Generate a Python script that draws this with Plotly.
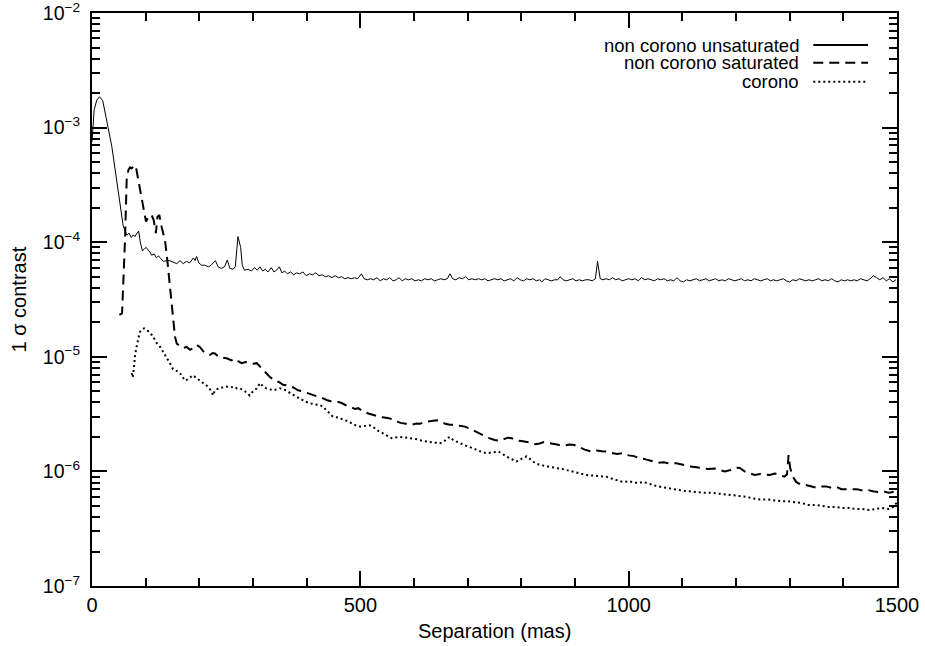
import plotly.graph_objects as go

# separation (mas) and 1-sigma contrast
sep_unsat = [0, 4, 9, 14, 20, 25, 30, 37, 43, 49, 52, 55, 58, 61, 65, 69, 73, 77, 80, 83,
             87, 90, 94, 98, 101, 105, 108, 111, 116, 120, 124, 127, 133, 139, 145, 151, 158, 164, 170, 176,
             182, 189, 192, 195, 199, 204, 210, 217, 222, 226, 230, 235, 241, 247, 252, 257, 263, 267, 272, 277,
             280, 284, 291, 297, 303, 308, 313, 318, 323, 328, 334, 339, 344, 349, 354, 359, 364, 370, 376, 381,
             387, 393, 399, 405, 411, 417, 423, 429, 435, 441, 447, 453, 459, 465, 471, 477, 483, 489, 495, 502,
             507, 513, 519, 525, 531, 537, 543, 549, 555, 561, 567, 572, 578, 584, 590, 596, 602, 608, 614, 620,
             626, 632, 638, 644, 650, 656, 662, 667, 672, 678, 684, 690, 696, 702, 708, 714, 720, 726, 732, 738,
             744, 750, 756, 762, 768, 774, 780, 786, 792, 798, 804, 810, 816, 822, 828, 834, 838, 844, 850, 856,
             862, 868, 872, 878, 884, 890, 896, 902, 908, 914, 920, 926, 932, 938, 942, 947, 952, 958, 964, 970,
             976, 982, 988, 994, 1000, 1006, 1012, 1018, 1024, 1030, 1036, 1042, 1048, 1054, 1060, 1066, 1072, 1078, 1084, 1090,
             1096, 1102, 1108, 1114, 1120, 1126, 1132, 1138, 1144, 1150, 1156, 1162, 1168, 1174, 1180, 1186, 1192, 1198, 1204, 1210,
             1216, 1222, 1228, 1234, 1240, 1246, 1252, 1258, 1264, 1270, 1276, 1282, 1288, 1294, 1300, 1306, 1312, 1318, 1324, 1330,
             1336, 1342, 1348, 1354, 1360, 1366, 1372, 1378, 1384, 1390, 1396, 1402, 1408, 1414, 1420, 1426, 1432, 1438, 1444, 1450,
             1456, 1462, 1468, 1474, 1480, 1486, 1492, 1498]
con_unsat = [7.5e-4, 1.43e-3, 1.74e-3, 1.86e-3, 1.72e-3, 1.35e-3, 1.0e-3, 6.8e-4, 4.3e-4, 2.7e-4,
             2.35e-4, 1.8e-4, 1.4e-4, 1.28e-4, 1.15e-4, 1.2e-4, 1.1e-4, 1.16e-4, 1.12e-4, 1.18e-4,
             1.25e-4, 1.0e-4, 8.4e-5, 8.8e-5, 9.0e-5, 8.5e-5, 8.2e-5, 7.7e-5, 7.9e-5, 7.3e-5,
             7.6e-5, 7.3e-5, 6.8e-5, 6.9e-5, 6.9e-5, 6.7e-5, 6.5e-5, 6.9e-5, 6.5e-5, 6.8e-5,
             6.6e-5, 7.3e-5, 6.9e-5, 7.5e-5, 6.6e-5, 6.3e-5, 6.3e-5, 6.1e-5, 6.3e-5, 6.6e-5,
             6.9e-5, 6.1e-5, 5.9e-5, 6.1e-5, 7.0e-5, 5.9e-5, 5.8e-5, 6.1e-5, 1.12e-4, 9.0e-5,
             6.3e-5, 5.7e-5, 5.8e-5, 5.6e-5, 6.0e-5, 5.7e-5, 6.1e-5, 5.6e-5, 5.8e-5, 5.5e-5,
             6.0e-5, 5.5e-5, 5.7e-5, 6.1e-5, 5.4e-5, 5.6e-5, 5.3e-5, 5.5e-5, 5.2e-5, 5.4e-5,
             5.3e-5, 5.5e-5, 5.1e-5, 5.3e-5, 5.2e-5, 5.4e-5, 5.1e-5, 5.2e-5, 5.0e-5, 5.1e-5,
             4.9e-5, 5.1e-5, 4.9e-5, 5.0e-5, 4.8e-5, 4.9e-5, 4.8e-5, 4.9e-5, 4.8e-5, 5.3e-5,
             4.8e-5, 4.7e-5, 4.8e-5, 4.7e-5, 4.9e-5, 4.6e-5, 4.8e-5, 4.7e-5, 4.9e-5, 4.6e-5,
             4.7e-5, 4.9e-5, 4.6e-5, 4.8e-5, 4.7e-5, 4.8e-5, 4.6e-5, 4.7e-5, 4.6e-5, 4.8e-5,
             4.7e-5, 4.8e-5, 4.6e-5, 4.7e-5, 4.8e-5, 4.7e-5, 4.8e-5, 5.3e-5, 4.8e-5, 4.7e-5,
             4.9e-5, 4.8e-5, 5.0e-5, 4.7e-5, 4.8e-5, 4.7e-5, 4.8e-5, 4.7e-5, 4.8e-5, 4.6e-5,
             4.7e-5, 4.8e-5, 4.7e-5, 4.8e-5, 4.6e-5, 4.7e-5, 4.8e-5, 4.6e-5, 4.9e-5, 4.7e-5,
             4.6e-5, 4.8e-5, 4.7e-5, 4.8e-5, 4.6e-5, 4.7e-5, 4.5e-5, 4.8e-5, 4.7e-5, 4.6e-5,
             4.7e-5, 4.7e-5, 5.0e-5, 4.7e-5, 4.6e-5, 4.7e-5, 4.8e-5, 4.6e-5, 4.7e-5, 4.6e-5,
             4.7e-5, 4.7e-5, 4.6e-5, 4.8e-5, 6.8e-5, 4.8e-5, 4.7e-5, 4.8e-5, 4.7e-5, 4.9e-5,
             4.7e-5, 4.8e-5, 4.6e-5, 4.7e-5, 4.8e-5, 4.7e-5, 4.8e-5, 4.6e-5, 4.9e-5, 4.7e-5,
             4.8e-5, 4.7e-5, 4.6e-5, 4.8e-5, 4.7e-5, 4.8e-5, 4.6e-5, 4.7e-5, 4.6e-5, 4.9e-5,
             4.6e-5, 4.5e-5, 4.7e-5, 4.6e-5, 4.7e-5, 4.8e-5, 4.6e-5, 4.7e-5, 4.8e-5, 4.6e-5,
             4.7e-5, 4.8e-5, 4.6e-5, 4.7e-5, 4.6e-5, 4.8e-5, 4.7e-5, 4.6e-5, 4.7e-5, 4.8e-5,
             4.6e-5, 4.7e-5, 4.6e-5, 4.8e-5, 4.7e-5, 4.6e-5, 4.7e-5, 4.8e-5, 4.6e-5, 4.7e-5,
             4.6e-5, 4.7e-5, 4.8e-5, 4.6e-5, 4.5e-5, 4.7e-5, 4.6e-5, 4.8e-5, 4.7e-5, 4.6e-5,
             4.7e-5, 4.6e-5, 4.7e-5, 4.8e-5, 4.6e-5, 4.7e-5, 4.6e-5, 4.8e-5, 4.6e-5, 4.5e-5,
             4.7e-5, 4.6e-5, 4.7e-5, 4.6e-5, 4.7e-5, 4.6e-5, 4.8e-5, 4.7e-5, 4.6e-5, 4.8e-5,
             5.1e-5, 4.9e-5, 4.7e-5, 4.9e-5, 4.6e-5, 4.8e-5, 4.5e-5, 4.7e-5]

sep_sat = [51, 56, 58, 61.5, 64.6, 68, 71, 74, 77, 80, 82, 86, 92.5, 97, 100.6, 105, 111, 115, 119, 122,
           125.4, 129.7, 136, 140.3, 145.3, 148.4, 151.4, 154.6, 158, 163, 170, 176, 183, 189, 195, 201, 207, 213, 220, 225,
           229, 236, 243, 251, 260, 267, 273, 279, 286, 293, 300, 307, 316, 324, 331, 341, 349, 356, 366, 375,
           384, 392, 402, 412, 420, 428, 437, 445, 455, 465, 472, 480, 490, 496, 505, 515, 524, 535, 545, 555,
           565, 575, 585, 595, 605, 611, 620, 630, 642, 650, 658, 667, 676, 685, 695, 705, 713, 722, 730, 740,
           750, 758, 766, 775, 782, 790, 800, 809, 818, 826, 834, 842, 850, 860, 871, 880, 890, 899, 908, 918,
           930, 940, 950, 958, 968, 978, 989, 1000, 1010, 1020, 1030, 1042, 1055, 1065, 1077, 1089, 1100, 1112, 1123, 1135,
           1148, 1160, 1170, 1179, 1190, 1200, 1207, 1216, 1226, 1235, 1245, 1254, 1263, 1272, 1282, 1290, 1295, 1298, 1301, 1306,
           1312, 1320, 1330, 1340, 1350, 1360, 1368, 1378, 1388, 1396, 1405, 1415, 1425, 1436, 1445, 1455, 1464, 1475, 1485, 1492,
           1496, 1500]
con_sat = [2.32e-5, 2.39e-5, 4.1e-5, 1.04e-4, 3.5e-4, 4.3e-4, 4.5e-4, 4.4e-4, 4.6e-4, 4.4e-4,
           4.5e-4, 3.5e-4, 2.33e-4, 1.79e-4, 1.51e-4, 1.67e-4, 1.73e-4, 1.56e-4, 1.2e-4, 1.67e-4,
           1.73e-4, 1.36e-4, 1.04e-4, 7.0e-5, 4.1e-5, 3.13e-5, 2.1e-5, 1.5e-5, 1.3e-5, 1.25e-5,
           1.19e-5, 1.22e-5, 1.15e-5, 1.2e-5, 1.27e-5, 1.22e-5, 1.12e-5, 1.06e-5, 1.04e-5, 1.08e-5,
           1.07e-5, 1.0e-5, 9.8e-6, 9.7e-6, 9.3e-6, 9.6e-6, 9.1e-6, 8.8e-6, 9.0e-6, 8.9e-6,
           8.7e-6, 8.8e-6, 7.9e-6, 7.2e-6, 6.7e-6, 6.2e-6, 6.0e-6, 5.7e-6, 5.6e-6, 5.4e-6,
           5.1e-6, 5.0e-6, 4.8e-6, 4.6e-6, 4.5e-6, 4.4e-6, 4.2e-6, 4.1e-6, 4.1e-6, 3.95e-6,
           3.8e-6, 3.7e-6, 3.5e-6, 3.56e-6, 3.35e-6, 3.2e-6, 3.1e-6, 3.0e-6, 2.95e-6, 2.9e-6,
           2.75e-6, 2.65e-6, 2.6e-6, 2.55e-6, 2.62e-6, 2.6e-6, 2.7e-6, 2.75e-6, 2.8e-6, 2.75e-6,
           2.6e-6, 2.55e-6, 2.55e-6, 2.5e-6, 2.46e-6, 2.35e-6, 2.25e-6, 2.15e-6, 2.05e-6, 1.95e-6,
           1.88e-6, 1.85e-6, 1.9e-6, 1.97e-6, 1.95e-6, 1.87e-6, 1.84e-6, 1.82e-6, 1.78e-6, 1.73e-6,
           1.75e-6, 1.8e-6, 1.77e-6, 1.72e-6, 1.7e-6, 1.68e-6, 1.72e-6, 1.7e-6, 1.62e-6, 1.55e-6,
           1.49e-6, 1.52e-6, 1.5e-6, 1.49e-6, 1.45e-6, 1.42e-6, 1.44e-6, 1.38e-6, 1.36e-6, 1.3e-6,
           1.28e-6, 1.24e-6, 1.19e-6, 1.2e-6, 1.17e-6, 1.18e-6, 1.14e-6, 1.11e-6, 1.09e-6, 1.07e-6,
           1.05e-6, 1.06e-6, 1.02e-6, 1.0e-6, 1.03e-6, 1.08e-6, 1.07e-6, 1.0e-6, 9.6e-7, 9.3e-7,
           9.5e-7, 9.4e-7, 9.3e-7, 9.6e-7, 9.2e-7, 9.0e-7, 9.4e-7, 1.39e-6, 1.07e-6, 9.0e-7,
           8.1e-7, 7.7e-7, 7.6e-7, 7.4e-7, 7.2e-7, 7.4e-7, 7.4e-7, 7.2e-7, 7.3e-7, 7.0e-7,
           7.0e-7, 6.9e-7, 7.0e-7, 6.8e-7, 6.9e-7, 6.7e-7, 6.6e-7, 6.7e-7, 6.5e-7, 6.6e-7,
           6.9e-7, 6.5e-7]

sep_coro = [74, 76, 78, 80, 83, 86, 89, 93, 97, 101, 105, 110, 114, 120, 127, 133, 138, 142, 147, 151,
            156, 161, 166, 173, 180, 188, 195, 200, 207, 214, 220, 226, 229, 236, 243, 251, 258, 265, 270, 276,
            285, 290, 294, 300, 307, 313, 319, 325, 331, 338, 344, 350, 356, 362, 370, 377, 384, 392, 399, 406,
            415, 425, 432, 440, 449, 458, 468, 476, 486, 493, 499, 508, 518, 526, 534, 542, 550, 558, 566, 574,
            582, 590, 598, 607, 615, 623, 632, 640, 648, 656, 662, 667, 673, 680, 686, 694, 702, 709, 716, 726,
            735, 745, 757, 765, 772, 782, 791, 798, 805, 810, 818, 826, 834, 845, 855, 865, 876, 886, 896, 908,
            921, 933, 945, 958, 970, 980, 989, 1000, 1010, 1017, 1027, 1038, 1050, 1062, 1076, 1088, 1100, 1113, 1126, 1140,
            1155, 1169, 1182, 1195, 1208, 1219, 1232, 1245, 1258, 1270, 1283, 1296, 1310, 1322, 1335, 1348, 1360, 1372, 1385, 1398,
            1410, 1422, 1435, 1448, 1460, 1472, 1484, 1494, 1500]
con_coro = [7.2e-6, 6.6e-6, 7.9e-6, 1.02e-5, 1.22e-5, 1.4e-5, 1.64e-5, 1.72e-5, 1.77e-5, 1.74e-5,
            1.68e-5, 1.58e-5, 1.5e-5, 1.33e-5, 1.22e-5, 1.1e-5, 1.0e-5, 9.4e-6, 8.5e-6, 7.8e-6,
            7.6e-6, 7.4e-6, 7.0e-6, 6.2e-6, 6.4e-6, 6.9e-6, 6.5e-6, 6.2e-6, 5.9e-6, 5.6e-6,
            5.2e-6, 4.6e-6, 5.1e-6, 5.3e-6, 5.4e-6, 5.5e-6, 5.4e-6, 5.5e-6, 5.3e-6, 5.3e-6,
            5.0e-6, 4.8e-6, 4.6e-6, 5.0e-6, 5.3e-6, 5.9e-6, 5.5e-6, 5.3e-6, 5.2e-6, 5.1e-6,
            5.2e-6, 5.3e-6, 5.2e-6, 5.1e-6, 4.8e-6, 4.6e-6, 4.35e-6, 4.2e-6, 4.05e-6, 3.93e-6,
            3.85e-6, 3.8e-6, 3.6e-6, 3.3e-6, 3.0e-6, 2.95e-6, 2.85e-6, 2.75e-6, 2.6e-6, 2.5e-6,
            2.46e-6, 2.5e-6, 2.52e-6, 2.4e-6, 2.25e-6, 2.15e-6, 2.05e-6, 1.95e-6, 1.98e-6, 2.0e-6,
            1.98e-6, 1.96e-6, 1.95e-6, 1.9e-6, 1.85e-6, 1.82e-6, 1.8e-6, 1.78e-6, 1.76e-6, 1.82e-6,
            1.95e-6, 2.0e-6, 1.88e-6, 1.8e-6, 1.76e-6, 1.7e-6, 1.64e-6, 1.58e-6, 1.54e-6, 1.48e-6,
            1.44e-6, 1.46e-6, 1.49e-6, 1.42e-6, 1.35e-6, 1.28e-6, 1.22e-6, 1.27e-6, 1.33e-6, 1.35e-6,
            1.25e-6, 1.18e-6, 1.14e-6, 1.11e-6, 1.09e-6, 1.07e-6, 1.05e-6, 1.02e-6, 1.0e-6, 9.6e-7,
            9.3e-7, 9.2e-7, 9.1e-7, 9.0e-7, 8.6e-7, 8.3e-7, 8.1e-7, 8.2e-7, 8.0e-7, 7.9e-7,
            8.1e-7, 7.8e-7, 7.5e-7, 7.3e-7, 7.1e-7, 6.9e-7, 6.8e-7, 6.7e-7, 6.6e-7, 6.5e-7,
            6.5e-7, 6.4e-7, 6.3e-7, 6.2e-7, 6.1e-7, 6.0e-7, 5.8e-7, 5.7e-7, 5.7e-7, 5.6e-7,
            5.5e-7, 5.5e-7, 5.4e-7, 5.3e-7, 5.1e-7, 5.1e-7, 5.0e-7, 4.9e-7, 4.9e-7, 4.8e-7,
            4.8e-7, 4.7e-7, 4.7e-7, 4.6e-7, 4.7e-7, 4.8e-7, 4.7e-7, 4.9e-7, 5.4e-7]

legend_names = ["non corono unsaturated", "non corono saturated", "corono"]
y_major = [1e-7, 1e-6, 1e-5, 1e-4, 1e-3, 1e-2]
y_labels = ["10<sup>−7</sup>", "10<sup>−6</sup>", "10<sup>−5</sup>",
            "10<sup>−4</sup>", "10<sup>−3</sup>", "10<sup>−2</sup>"]
x_major = [0, 500, 1000, 1500]

FONT = "Liberation Sans, Arial, sans-serif"
styles = [dict(color="black", width=1, dash="solid"),
          dict(color="black", width=2, dash="10px,6px"),
          dict(color="black", width=2, dash="2px,3px")]

fig = go.Figure()
for name, xs, ys, st in zip(legend_names, [sep_unsat, sep_sat, sep_coro],
                            [con_unsat, con_sat, con_coro], styles):
    fig.add_trace(go.Scatter(x=xs, y=ys, mode="lines", name=name, line=st,
                             showlegend=False))

# IDL-style legend: text right-aligned, line sample on the right
legend_y = [0.944, 0.913, 0.880]
for name, ly, st in zip(legend_names, legend_y, styles):
    fig.add_annotation(x=0.881, y=ly, xref="paper", yref="paper", text=name,
                       showarrow=False, xanchor="right", yanchor="middle",
                       font=dict(size=18.5, color="black", family=FONT))
    fig.add_shape(type="line", xref="paper", yref="paper", x0=0.896, x1=0.964,
                  y0=ly, y1=ly, line=dict(color="black", width=2, dash=st["dash"]))

# axis titles placed like the original
fig.add_annotation(x=-0.0907, y=0.5, xref="paper", yref="paper", text="1 σ contrast",
                   textangle=-90, showarrow=False, xanchor="center", yanchor="middle",
                   font=dict(size=20, color="black", family=FONT))
fig.add_annotation(x=0.5, y=-0.0785, xref="paper", yref="paper", text="Separation (mas)",
                   showarrow=False, xanchor="center", yanchor="middle",
                   font=dict(size=20, color="black", family=FONT))

minor_y = [k * 10.0 ** e for e in range(-7, -2) for k in range(2, 10)]

fig.update_layout(
    width=925, height=646,
    margin=dict(l=92, r=28, t=13, b=60),
    paper_bgcolor="white", plot_bgcolor="white",
    font=dict(family=FONT, size=20, color="black"),
    xaxis=dict(
        range=[0, 1500], tickvals=x_major, ticks="inside", ticklen=15, tickwidth=1.5,
        showgrid=False, zeroline=False, showline=True, linecolor="black", linewidth=2,
        mirror="allticks", tickcolor="black", tickfont=dict(size=20), automargin=False,
        ticklabeloverflow="allow",
        minor=dict(dtick=100, ticks="inside", ticklen=8, tickwidth=1.5, tickcolor="black", showgrid=False),
    ),
    yaxis=dict(
        type="log", range=[-7, -2], tickvals=y_major, ticktext=y_labels,
        ticks="inside", ticklen=15, tickwidth=1.5, tickcolor="black",
        showgrid=False, zeroline=False, showline=True, linecolor="black", linewidth=2,
        mirror="allticks", tickfont=dict(size=19.5), ticklabelstandoff=6, automargin=False,
        ticklabeloverflow="allow",
        minor=dict(tickmode="array", tickvals=minor_y, ticks="inside", ticklen=8,
                   tickwidth=1.5, tickcolor="black", showgrid=False),
    ),
)

# drop the browser's default 8px body margin so the figure fills the window
fig.write_html("out.html", config={"displayModeBar": False},
               post_script="document.body.style.margin = '0px';")
